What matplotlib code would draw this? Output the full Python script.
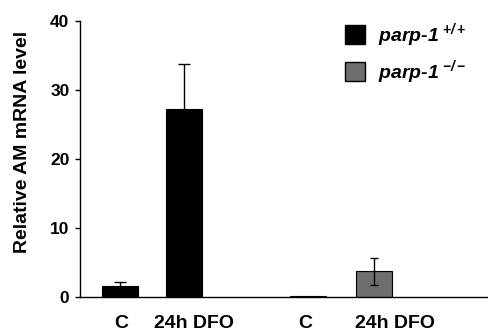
import matplotlib
matplotlib.use("Agg")
import matplotlib.pyplot as plt
from matplotlib.patches import Patch

plt.rcParams['font.family'] = ['Liberation Sans', 'DejaVu Sans']
plt.rcParams['mathtext.fontset'] = 'custom'
plt.rcParams['mathtext.rm'] = 'Liberation Sans:bold'
plt.rcParams['mathtext.it'] = 'Liberation Sans:bold:italic'
plt.rcParams['mathtext.bf'] = 'Liberation Sans:bold'
plt.rcParams['mathtext.default'] = 'regular'

# Data
categories = ["C", "24h DFO", "C", "24h DFO"]
series_names = ["parp-1\u2009$^{\\mathregular{+/+}}$", "parp-1\u2009$^{\\mathregular{-/-}}$"]
wt_values = [1.6, 27.3]
wt_errors = [0.6, 6.5]
ko_values = [0.1, 3.7]
ko_errors = [0.0, 2.0]
y_ticks = [0, 10, 20, 30, 40]

wt_color = "#000000"
ko_color = "#6e6e6e"

fig = plt.figure(figsize=(4.88, 3.36), dpi=100)
ax = fig.add_axes([0.164, 0.116, 0.836, 0.8215])

wt_pos = [0, 1]
ko_pos = [2.94, 3.97]
width = 0.56

ax.bar(wt_pos, wt_values, width=width, color=wt_color, edgecolor="black", linewidth=0.8)
ax.errorbar(wt_pos, wt_values, yerr=wt_errors, fmt="none", ecolor="black",
            elinewidth=1.0, capsize=4.5, capthick=1.0)
ax.bar(ko_pos, ko_values, width=width, color=ko_color, edgecolor="black", linewidth=0.8)
ax.errorbar([ko_pos[1]], [ko_values[1]], yerr=[ko_errors[1]], fmt="none", ecolor="black",
            elinewidth=1.0, capsize=3, capthick=1.0)

ax.set_xlim(-0.625, 5.75)
ax.set_ylim(0, 40)
ax.set_yticks(y_ticks)
ax.set_yticklabels([str(t) for t in y_ticks], fontsize=12.5, fontweight='bold')
ax.tick_params(axis='y', length=3.6, width=1, pad=4)
label_pos = [0.02, 1.16, 2.89, 4.3]
ax.set_xticks(label_pos)
ax.set_xticklabels(categories, fontsize=14, fontweight='bold')
ax.tick_params(axis='x', length=0, pad=13)

ax.spines['top'].set_visible(False)
ax.spines['right'].set_visible(False)
ax.spines['left'].set_linewidth(1.0)
ax.spines['bottom'].set_linewidth(1.0)

ax.set_ylabel("Relative AM mRNA level", fontsize=14, fontweight='bold')
ax.yaxis.set_label_coords(-0.12, 0.563)

handles = [Patch(facecolor=wt_color, edgecolor="black"),
           Patch(facecolor=ko_color, edgecolor="black")]
leg = fig.legend(handles, series_names, loc="upper left", bbox_to_anchor=(0.707, 0.937),
                 frameon=False, prop={'family': 'Liberation Sans', 'weight': 'bold',
                                      'style': 'italic', 'size': 14},
                 handlelength=1.03, handleheight=1.1, handletextpad=0.65, labelspacing=0.45,
                 borderpad=0, borderaxespad=0)

fig.savefig("out.png", dpi=100)
